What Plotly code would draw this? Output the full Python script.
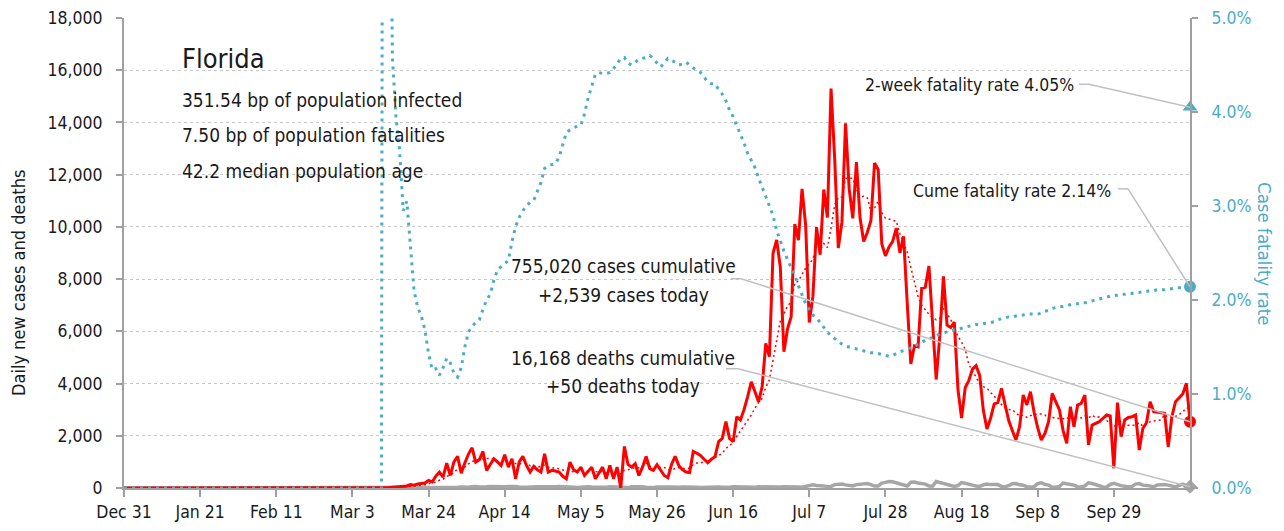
import pandas as pd
import plotly.graph_objects as go

# ---------------- data ----------------
START = "2019-12-31"
PRE_MARCH_ZEROS = [0] * 61  # Dec 31 .. Feb 29: nothing reported

TICK_DATES = ["2019-12-31", "2020-01-21", "2020-02-11", "2020-03-03", "2020-03-24",
              "2020-04-14", "2020-05-05", "2020-05-26", "2020-06-16", "2020-07-07",
              "2020-07-28", "2020-08-18", "2020-09-08", "2020-09-29"]

# daily new cases, Mar 1 .. Oct 20
CASES_MAR = [0, 0, 1, 2, 2, 4, 5, 4, 3, 6, 10, 12, 20, 30, 40, 50, 60, 80, 130, 110,
             150, 170, 190, 290, 230, 450, 610, 420, 955, 480, 1000]
CASES_APR = [1210, 570, 955, 1300, 1540, 990, 1080, 1400, 675, 900, 1120, 1000, 865, 1275, 800,
             1120, 355, 1000, 1210, 865, 610, 830, 700, 610, 1310, 610, 675, 650, 610, 450]
CASES_MAY = [355, 990, 700, 610, 800, 480, 650, 800, 355, 600, 800, 355, 865, 355, 800, 0,
             1590, 900, 800, 930, 480, 800, 1210, 740, 675, 890, 700, 480, 395, 900, 1210]
CASES_JUN = [865, 700, 610, 590, 1400, 1330, 1250, 1100, 970, 1100, 1200, 1775, 1900, 2540, 1900,
             1775, 2730, 2600, 3000, 3500, 4070, 3700, 3300, 3880, 5540, 5030, 8990, 9500, 8475, 5220]
CASES_JUL = [6093, 6563, 10109, 9488, 11458, 10059, 6336, 7347, 9989, 8935, 11433, 10360, 15300,
             12624, 9194, 10181, 13965, 11466, 10328, 12478, 10347, 9440, 9785, 10249, 12444,
             12199, 9344, 8892, 9230, 9446, 9956]
CASES_AUG = [9007, 9642, 7104, 4752, 5446, 5409, 7650, 7686, 8502, 6229, 4155, 5831, 8109, 6236,
             6148, 6352, 3779, 2678, 3838, 4115, 4555, 4684, 4311, 2974, 2258, 2673, 3220, 3269,
             3815, 3197, 2583]
CASES_SEP = [2200, 1840, 2350, 3560, 3180, 3690, 2900, 2300, 1840, 2095, 2540, 3625, 3300, 2990,
             2200, 1710, 3115, 2350, 3180, 3240, 3560, 1650, 2410, 2480, 2540, 2670, 2795, 2760,
             755, 3270]
CASES_OCT = [1965, 2605, 2700, 2730, 2795, 1455, 2285, 2500, 3305, 2920, 2900, 2900, 2860, 1580,
             2730, 3305, 3435, 3600, 4010, 2539]

# daily new deaths, Mar 1 .. Oct 20
DEATHS_MAR = [0, 0, 0, 0, 0, 2, 0, 0, 0, 0, 0, 1, 0, 1, 1, 2, 0, 3, 2, 3, 4, 5, 4, 6, 8, 10, 12,
              9, 14, 16, 22]
DEATHS_APR = [30, 35, 20, 25, 45, 60, 40, 30, 50, 60, 55, 30, 25, 45, 60, 70, 55, 40, 25, 30, 35,
              55, 50, 45, 40, 25, 20, 45, 60, 45]
DEATHS_MAY = [40, 45, 30, 20, 35, 55, 50, 40, 35, 25, 20, 30, 50, 45, 40, 30, 20, 15, 45, 55, 40,
              45, 30, 20, 15, 40, 50, 45, 40, 35, 20]
DEATHS_JUN = [25, 40, 45, 40, 35, 30, 20, 25, 40, 45, 35, 40, 25, 15, 30, 45, 40, 45, 35, 25, 15,
              30, 45, 40, 50, 40, 30, 20, 35, 50]
DEATHS_JUL = [55, 60, 45, 40, 30, 50, 70, 120, 100, 95, 80, 50, 60, 130, 140, 150, 120, 90, 80,
              130, 140, 170, 175, 130, 75, 80, 190, 215, 250, 240, 200]
DEATHS_AUG = [150, 110, 80, 220, 230, 190, 180, 150, 80, 70, 250, 210, 170, 160, 120, 60, 90, 210,
              180, 160, 110, 80, 60, 120, 150, 130, 140, 130, 60, 50, 90]
DEATHS_SEP = [160, 170, 120, 110, 50, 40, 50, 170, 200, 140, 110, 40, 30, 60, 190, 160, 150, 110,
              50, 40, 80, 200, 170, 120, 70, 40, 30, 140, 180, 120]
DEATHS_OCT = [90, 70, 40, 60, 150, 170, 110, 100, 60, 50, 120, 140, 130, 110, 60, 40, 100, 150,
              80, 50]

# cumulative case fatality rate (%), Mar 1 .. Oct 20
CFR_MAR = [0, 0, 0, 0, 0, 0, 0, 0, 0, 0, 0, 25, 10, 4.6, 3.95, 3.6, 2.95, 3.05, 2.6, 2.1, 1.92,
           1.83, 1.68, 1.43, 1.26, 1.27, 1.20, 1.28, 1.38, 1.33, 1.22]
CFR_APR = [1.18, 1.28, 1.50, 1.66, 1.72, 1.76, 1.79, 1.90, 2.0, 2.06, 2.21, 2.32, 2.35, 2.38,
           2.42, 2.62, 2.78, 2.88, 2.95, 3.0, 3.04, 3.06, 3.15, 3.25, 3.40, 3.43, 3.44, 3.45,
           3.52, 3.65]
CFR_MAY = [3.78, 3.81, 3.83, 3.85, 3.86, 3.98, 4.15, 4.28, 4.40, 4.42, 4.41, 4.41, 4.42, 4.46,
           4.52, 4.57, 4.58, 4.52, 4.50, 4.53, 4.56, 4.57, 4.58, 4.60, 4.57, 4.52, 4.48, 4.52,
           4.57, 4.55, 4.53]
CFR_JUN = [4.50, 4.51, 4.53, 4.50, 4.46, 4.44, 4.42, 4.37, 4.32, 4.30, 4.30, 4.24, 4.19, 4.12,
           4.02, 3.95, 3.86, 3.78, 3.67, 3.56, 3.48, 3.41, 3.30, 3.20, 3.10, 3.00, 2.90, 2.74,
           2.62, 2.52]
CFR_JUL = [2.43, 2.35, 2.26, 2.15, 2.06, 1.96, 1.90, 1.84, 1.81, 1.76, 1.70, 1.66, 1.62, 1.59,
           1.55, 1.53, 1.51, 1.50, 1.49, 1.48, 1.47, 1.46, 1.45, 1.44, 1.44, 1.43, 1.42, 1.41,
           1.40, 1.41, 1.43]
CFR_AUG = [1.45, 1.46, 1.48, 1.49, 1.51, 1.53, 1.55, 1.57, 1.59, 1.60, 1.62, 1.64, 1.65, 1.66,
           1.67, 1.68, 1.68, 1.70, 1.71, 1.72, 1.73, 1.74, 1.74, 1.75, 1.75, 1.76, 1.77, 1.79,
           1.80, 1.81, 1.82]
CFR_SEP = [1.82, 1.83, 1.84, 1.84, 1.85, 1.85, 1.85, 1.85, 1.86, 1.88, 1.89, 1.91, 1.92, 1.93,
           1.93, 1.94, 1.95, 1.96, 1.96, 1.97, 1.97, 1.98, 1.99, 2.00, 2.01, 2.02, 2.03, 2.04,
           2.05, 2.05]
CFR_OCT = [2.06, 2.06, 2.07, 2.07, 2.08, 2.08, 2.09, 2.09, 2.10, 2.10, 2.11, 2.11, 2.11, 2.12,
           2.12, 2.13, 2.13, 2.13, 2.14, 2.14]

TWO_WEEK_CFR = 4.05  # %

STATE = "Florida"
STAT_LINES = ["351.54 bp of population infected",
              "7.50 bp of population fatalities",
              "42.2 median population age"]
CASES_LABEL = ["755,020 cases cumulative", "+2,539 cases today"]
DEATHS_LABEL = ["16,168 deaths cumulative", "+50 deaths today"]
TWO_WEEK_LABEL = "2-week fatality rate 4.05%"
CUME_LABEL = "Cume fatality rate 2.14%"

# ---------------- assemble ----------------
cases = PRE_MARCH_ZEROS + CASES_MAR + CASES_APR + CASES_MAY + CASES_JUN + CASES_JUL + CASES_AUG + CASES_SEP + CASES_OCT
deaths = PRE_MARCH_ZEROS + DEATHS_MAR + DEATHS_APR + DEATHS_MAY + DEATHS_JUN + DEATHS_JUL + DEATHS_AUG + DEATHS_SEP + DEATHS_OCT
cfr = PRE_MARCH_ZEROS + CFR_MAR + CFR_APR + CFR_MAY + CFR_JUN + CFR_JUL + CFR_AUG + CFR_SEP + CFR_OCT
assert len(cases) == len(deaths) == len(cfr)

dates = pd.date_range(START, periods=len(cases), freq="D")
cases_avg = pd.Series(cases).rolling(7, min_periods=1).mean()
cfr_frac = [v / 100 for v in cfr]
last = dates[-1]

FONT = "DejaVu Sans Condensed, Liberation Sans Narrow, Arial Narrow, sans-serif"
RED = "#ff0000"
TEAL = "#4bacc6"
GREY = "#a6a6a6"
AXIS = "#a0a0a0"
LEADER = "#c0c0c0"
INK = "#1a1a1a"

fig = go.Figure()
fig.add_trace(go.Scatter(x=dates, y=cfr_frac, yaxis="y2", mode="lines",
                         line=dict(color=TEAL, width=3, dash="3px,5px")))
fig.add_trace(go.Scatter(x=dates, y=deaths, mode="lines",
                         line=dict(color=GREY, width=3.5)))
fig.add_trace(go.Scatter(x=dates, y=cases_avg, mode="lines",
                         line=dict(color=RED, width=1.5, dash="2px,3px")))
fig.add_trace(go.Scatter(x=dates, y=cases, mode="lines",
                         line=dict(color=RED, width=3)))
# end markers
fig.add_trace(go.Scatter(x=[last], y=[cases[-1]], mode="markers", cliponaxis=False,
                         marker=dict(color=RED, size=12)))
fig.add_trace(go.Scatter(x=[last], y=[deaths[-1]], mode="markers", cliponaxis=False,
                         marker=dict(color=GREY, size=11, symbol="diamond")))
fig.add_trace(go.Scatter(x=[last], y=[cfr_frac[-1]], yaxis="y2", mode="markers", cliponaxis=False,
                         marker=dict(color=TEAL, size=12)))
fig.add_trace(go.Scatter(x=[last], y=[TWO_WEEK_CFR / 100], yaxis="y2", mode="markers",
                         cliponaxis=False, marker=dict(color=TEAL, size=13, symbol="triangle-up")))

# plot-area geometry in pixels (for placing text)
L, R, T, B = 124, 1190, 18, 488


def px(x):
    return (x - L) / (R - L)


def py(y):
    return (B - y) / (B - T)


ann = []
ann.append(dict(text=STATE, x=px(180), y=py(59), xanchor="left", yanchor="middle",
                font=dict(size=27, color=INK)))
for i, t in enumerate(STAT_LINES):
    ann.append(dict(text=t, x=px(180), y=py(99.5 + 35.5 * i), xanchor="left", yanchor="middle",
                    font=dict(size=19, color=INK)))
ann.append(dict(text=TWO_WEEK_LABEL, x=px(1076), y=py(85), xanchor="right", yanchor="middle",
                font=dict(size=17.5, color=INK)))
ann.append(dict(text=CUME_LABEL, x=px(1113), y=py(191.5), xanchor="right", yanchor="middle",
                font=dict(size=17.5, color=INK)))
for t, yy in zip(CASES_LABEL, [266, 295]):
    ann.append(dict(text=t, x=px(623), y=py(yy), xanchor="center", yanchor="middle",
                    font=dict(size=19, color=INK)))
for t, yy in zip(DEATHS_LABEL, [358, 386]):
    ann.append(dict(text=t, x=px(623), y=py(yy), xanchor="center", yanchor="middle",
                    font=dict(size=19, color=INK)))
ann.append(dict(text="Daily new cases and deaths", x=px(18), y=py(283), textangle=-90,
                xanchor="center", yanchor="middle", font=dict(size=18, color=INK)))
ann.append(dict(text="Case fatality rate", x=px(1265), y=py(254), textangle=90,
                xanchor="center", yanchor="middle", font=dict(size=18.5, color=TEAL)))
for a in ann:
    a.update(xref="paper", yref="paper", showarrow=False)

# leader lines, anchored at the end points (pixel offsets)
shapes = []


def leader(anchor_y, yref, elbow_dx, dy, seg=10):
    common = dict(type="line", xref="x", yref=yref, xsizemode="pixel", ysizemode="pixel",
                  xanchor=last, yanchor=anchor_y, line=dict(color=LEADER, width=1.5), layer="above")
    shapes.append(dict(common, x0=0, y0=0, x1=elbow_dx, y1=dy))
    shapes.append(dict(common, x0=elbow_dx, y0=dy, x1=elbow_dx - seg, y1=dy))


leader(cases[-1], "y", -449, 143)
leader(deaths[-1], "y", -452, 118, seg=12)
leader(cfr_frac[-1], "y2", -62, 98)
leader(TWO_WEEK_CFR / 100, "y2", -101, 23)

tickfont = dict(family=FONT, size=17.5, color=INK)
fig.update_layout(
    width=1284, height=531,
    margin=dict(l=L, r=1284 - R, t=T, b=531 - B, autoexpand=False),
    paper_bgcolor="white", plot_bgcolor="white",
    font=dict(family=FONT),
    showlegend=False,
    hovermode=False,
    annotations=ann,
    shapes=shapes,
    xaxis=dict(type="date", range=[dates[0], last], tickvals=TICK_DATES,
               tickformat="%b %-d", showgrid=False, showline=True, linecolor=AXIS, linewidth=2,
               ticks="outside", ticklen=7, tickwidth=2, tickcolor=AXIS, tickfont=tickfont,
               zeroline=False, automargin=False, ticklabelstandoff=0),
    yaxis=dict(range=[0, 18000], dtick=2000, tickformat=",", showgrid=True, gridcolor="#c8c8c8",
               griddash="dot", gridwidth=1, showline=True, linecolor=AXIS, linewidth=2,
               ticks="outside", ticklen=6, tickwidth=2, tickcolor=AXIS, tickfont=tickfont,
               ticklabelstandoff=10, zeroline=False, automargin=False),
    yaxis2=dict(range=[0, 0.05], dtick=0.01, tickformat=".1%", overlaying="y", side="right",
                showgrid=False, showline=True, linecolor=AXIS, linewidth=2, ticks="outside",
                ticklen=6, tickwidth=2, tickcolor=AXIS,
                tickfont=dict(family=FONT, size=17.5, color=TEAL), ticklabelstandoff=10,
                zeroline=False, automargin=False),
)

fig.write_html("out.html", config={"displayModeBar": False},
               post_script="document.body.style.margin='0';")
